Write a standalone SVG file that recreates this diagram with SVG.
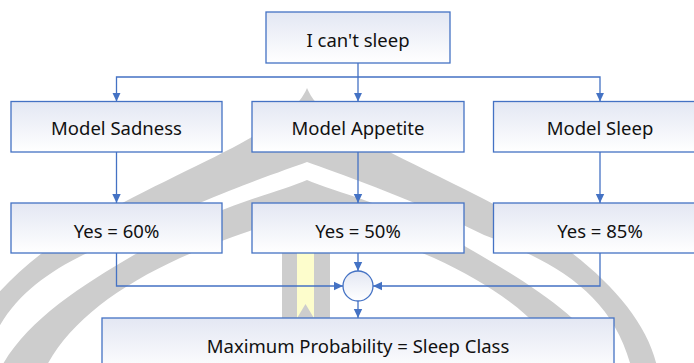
<svg xmlns="http://www.w3.org/2000/svg" width="694" height="363" viewBox="0 0 694 363">
  <defs>
    <linearGradient id="boxFill" x1="0" y1="0" x2="0" y2="1">
      <stop offset="0" stop-color="#e3e7f3"/>
      <stop offset="1" stop-color="#ffffff"/>
    </linearGradient>
    <marker id="arrow" markerUnits="userSpaceOnUse" markerWidth="10" markerHeight="10" viewBox="0 0 10 10" refX="9" refY="5" orient="auto">
      <path d="M0,0.8 L9,5 L0,9.2 Z" fill="#4472c4"/>
    </marker>
    <!-- left half of the faint dome emblem; mirrored for the right half -->
    <g id="domeHalf">
      <path d="M307,88 C290,130 200,160 100,215 C20,260 -40,320 -45,380 L-20,380 C-5,300 50,265 130,235 C210,195 280,172 307,162 Z"/>
      <path d="M307,180 C280,192 220,205 160,240 C90,280 20,320 -5,380 L40,380 C60,330 110,290 180,258 C240,232 285,220 307,212 Z"/>
    </g>
  </defs>
  <style>
    .box { fill: url(#boxFill); stroke: #4472c4; stroke-width: 1.3; }
    .label { font-family: "Noto Sans", "DejaVu Sans", sans-serif; font-size: 18.5px; fill: #111111; text-anchor: middle; }
    .wire { fill: none; stroke: #4472c4; stroke-width: 1.3; }
    .emblem { fill: #cdcdcd; }
  </style>

  <rect width="694" height="363" fill="#ffffff"/>

  <!-- background emblem -->
  <g id="emblem" class="emblem">
    <use href="#domeHalf"/>
    <use href="#domeHalf" transform="translate(614,0) scale(-1,1)"/>
    <rect x="282" y="215" width="48" height="104"/>
    <rect x="297" y="215" width="17" height="104" fill="#fdfdcc"/>
    <polygon points="296.5,319 305.5,304 314.5,319" fill="#cdcdcd"/>
  </g>

  <!-- nodes -->
  <g id="start">
    <rect class="box" x="266" y="12" width="184" height="51"/>
    <text class="label" x="358" y="46.5">I can't sleep</text>
  </g>
  <g id="model-sadness">
    <rect class="box" x="11" y="101.5" width="211" height="50.5"/>
    <text class="label" x="116.5" y="135">Model Sadness</text>
  </g>
  <g id="model-appetite">
    <rect class="box" x="252" y="101.5" width="212" height="50.5"/>
    <text class="label" x="358" y="135">Model Appetite</text>
  </g>
  <g id="model-sleep">
    <rect class="box" x="493.5" y="101.5" width="212" height="50.5"/>
    <text class="label" x="600" y="135">Model Sleep</text>
  </g>
  <g id="result-sadness">
    <rect class="box" x="11" y="203" width="211" height="50"/>
    <text class="label" x="116.5" y="237.5">Yes = 60%</text>
  </g>
  <g id="result-appetite">
    <rect class="box" x="252" y="203" width="212" height="50"/>
    <text class="label" x="358" y="237.5">Yes = 50%</text>
  </g>
  <g id="result-sleep">
    <rect class="box" x="493.5" y="203" width="212" height="50"/>
    <text class="label" x="600" y="237.5">Yes = 85%</text>
  </g>
  <g id="merge">
    <circle class="box" cx="358" cy="286" r="15"/>
  </g>
  <g id="decision">
    <rect class="box" x="102" y="318" width="512" height="56"/>
    <text class="label" x="358" y="352.5">Maximum Probability = Sleep Class</text>
  </g>

  <!-- connectors -->
  <g id="connectors" class="wire">
    <path d="M358,63 V101.5" marker-end="url(#arrow)"/>
    <path d="M358,77 H116.5 V101.5" marker-end="url(#arrow)"/>
    <path d="M358,77 H600 V101.5" marker-end="url(#arrow)"/>
    <path d="M116.5,152 V203" marker-end="url(#arrow)"/>
    <path d="M358,152 V203" marker-end="url(#arrow)"/>
    <path d="M600,152 V203" marker-end="url(#arrow)"/>
    <path d="M358,253 V271" marker-end="url(#arrow)"/>
    <path d="M116.5,253 V286 H343" marker-end="url(#arrow)"/>
    <path d="M600,253 V286 H373" marker-end="url(#arrow)"/>
    <path d="M358,301 V318" marker-end="url(#arrow)"/>
  </g>
</svg>
